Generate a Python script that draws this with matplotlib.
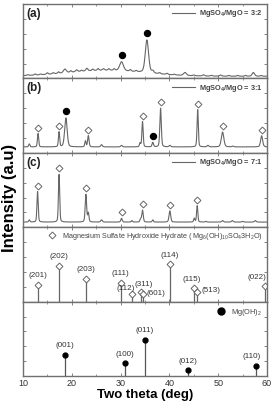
import numpy as np
import matplotlib
matplotlib.use("Agg")
import matplotlib.pyplot as plt
from matplotlib.lines import Line2D
from matplotlib.ticker import MultipleLocator

plt.rcParams['font.family'] = ['Liberation Sans', 'DejaVu Sans']
plt.rcParams['mathtext.fontset'] = 'custom'
plt.rcParams['mathtext.rm'] = 'Liberation Sans'
plt.rcParams['mathtext.bf'] = 'Liberation Sans:bold'

# ---- measured patterns (peak position deg, height, fwhm) ----
a_base = 0.03
a_hump = [27.0, 0.08, 8.0]   # centre, height, sigma of amorphous hump
a_pos = [11.0, 12.5, 13.6, 15.0, 16.2, 17.3, 18.6, 19.8, 21.0, 22.0, 23.1, 24.3, 25.4, 26.5, 27.6,
         28.7, 30.2, 32.0, 33.2, 35.4, 36.6, 38.0, 39.5, 41.0, 43.2, 45.0, 47.0, 48.6, 50.5,
         52.2, 54.0, 55.6, 57.2, 58.8]
a_hgt = [0.01, 0.015, 0.01, 0.02, 0.015, 0.02, 0.05, 0.02, 0.025, 0.015, 0.035, 0.02, 0.025, 0.02, 0.02,
         0.02, 0.12, 0.02, 0.015, 0.44, 0.03, 0.015, 0.015, 0.01, 0.04, 0.01, 0.015, 0.01, 0.015,
         0.01, 0.012, 0.01, 0.05, 0.01]
a_wid = [0.4, 0.4, 0.4, 0.4, 0.4, 0.4, 0.7, 0.4, 0.5, 0.4, 0.5, 0.4, 0.4, 0.5, 0.4,
         0.4, 0.9, 0.4, 0.4, 0.8, 0.5, 0.4, 0.4, 0.4, 0.7, 0.4, 0.5, 0.4, 0.5,
         0.4, 0.4, 0.4, 0.6, 0.4]
a_dots = [30.2, 35.4]
a_diam = []

b_base = 0.08
b_pos = [11.3, 13.1, 17.4, 18.8, 22.8, 23.4, 26.1, 30.2, 34.0, 34.5, 36.6, 38.2, 40.1, 45.8, 47.9, 50.9, 53.0, 58.9]
b_hgt = [0.04, 0.18, 0.20, 0.39, 0.08, 0.15, 0.03, 0.02, 0.05, 0.34, 0.06, 0.52, 0.02, 0.50, 0.02, 0.20, 0.01, 0.15]
b_wid = [0.3, 0.3, 0.3, 0.6, 0.3, 0.35, 0.4, 0.4, 0.3, 0.3, 0.35, 0.35, 0.4, 0.3, 0.4, 0.6, 0.4, 0.5]
b_dots = [18.8, 36.6]
b_diam = [13.1, 17.4, 23.4, 34.5, 38.2, 45.8, 50.9, 58.9]

c_base = 0.07
c_pos = [11.3, 13.0, 17.4, 22.9, 23.4, 26.1, 30.2, 32.3, 34.1, 34.5, 36.6, 40.1, 45.1, 45.7, 47.5, 50.9, 52.9, 55.0, 57.6]
c_hgt = [0.03, 0.41, 0.64, 0.37, 0.12, 0.03, 0.05, 0.02, 0.04, 0.16, 0.03, 0.15, 0.05, 0.22, 0.01, 0.02, 0.02, 0.01, 0.02]
c_wid = [0.3, 0.3, 0.3, 0.35, 0.3, 0.4, 0.35, 0.3, 0.3, 0.35, 0.3, 0.4, 0.3, 0.3, 0.3, 0.4, 0.4, 0.4, 0.4]
c_dots = []
c_diam = [13.0, 17.4, 22.9, 30.2, 34.5, 40.1, 45.7]

# reference sticks
mshh_pos = [13.0, 17.4, 22.9, 30.0, 32.3, 34.1, 34.5, 40.1, 45.0, 45.6, 59.6]
mshh_hgt = [0.23, 0.48, 0.30, 0.25, 0.10, 0.13, 0.11, 0.50, 0.18, 0.13, 0.21]
mshh_lab = ['(201)', '(202)', '(203)', '(111)', '(112)', '(311)', '(601)', '(114)', '(115)', '(513)', '(022)']

mgoh_pos = [18.6, 30.9, 35.0, 43.9, 57.7]
mgoh_hgt = [0.29, 0.18, 0.49, 0.08, 0.14]
mgoh_lab = ['(001)', '(100)', '(011)', '(012)', '(110)']

legends = ['MgSO$_\\mathbf{4}$/MgO = 3:2', 'MgSO$_\\mathbf{4}$/MgO = 3:1', 'MgSO$_\\mathbf{4}$/MgO = 7:1']
tags = ['(a)', '(b)', '(c)']

x = np.arange(10, 60.001, 0.02)


def pattern(base, pos, hgt, wid, hump=None, eta=0.3):
    y = np.full_like(x, base)
    if hump is not None:
        y += hump[1] * np.exp(-(x - hump[0]) ** 2 / (2 * hump[2] ** 2))
    for p, h, w in zip(pos, hgt, wid):
        g = (w / 2) ** 2
        lor = g / ((x - p) ** 2 + g)
        gau = np.exp(-4 * np.log(2) * (x - p) ** 2 / w ** 2)
        y += h * (eta * lor + (1 - eta) * gau)
    return y


line_col = '#666666'
spine_col = '#707070'

fig, axes = plt.subplots(5, 1, figsize=(2.73, 4.04), dpi=100, sharex=True)
fig.subplots_adjust(left=0.084, right=0.978, top=0.990, bottom=0.069, hspace=0)

spectra = [
    (pattern(a_base, a_pos, a_hgt, a_wid, a_hump), a_dots, a_diam),
    (pattern(b_base, b_pos, b_hgt, b_wid), b_dots, b_diam),
    (pattern(c_base, c_pos, c_hgt, c_wid), c_dots, c_diam),
]

for i, (y, dots, diam) in enumerate(spectra):
    ax = axes[i]
    ax.plot(x, y, color=line_col, lw=0.8, label=legends[i])
    for d in dots:
        m = (x > d - 0.4) & (x < d + 0.4)
        ax.plot(d, y[m].max() + 0.09, 'o', ms=4.3, color='black')
    for d in diam:
        m = (x > d - 0.4) & (x < d + 0.4)
        ax.plot(d, y[m].max() + 0.08, 'D', ms=3.5, mfc='white', mec=line_col, mew=0.7)
    ax.text(0.015, 0.95, tags[i], transform=ax.transAxes, ha='left', va='top',
            fontsize=8.5, fontweight='bold', color='#222222')
    leg = ax.legend(loc='upper right', frameon=False, handlelength=3.2,
                    handletextpad=0.5, borderaxespad=0.2, prop={'weight': 'bold', 'size': 5.3})
    for t in leg.get_texts():
        t.set_color('#444444')

# MSHH reference
ax = axes[3]
ax.vlines(mshh_pos, 0, mshh_hgt, color=line_col, lw=0.9)
ax.plot(mshh_pos, mshh_hgt, 'D', ms=3.5, mfc='white', mec=line_col, mew=0.7, ls='none')
lab_off = {'(112)': (-1.3, 0.03), '(311)': (0.7, 0.06), '(601)': (2.7, -0.05),
           '(513)': (3.0, -0.02), '(022)': (-1.6, 0.07), '(115)': (-0.4, 0.07)}
for p, h, l in zip(mshh_pos, mshh_hgt, mshh_lab):
    dx, dy = lab_off.get(l, (0.0, 0.08))
    ax.text(p + dx, h + dy, l, ha='center', va='bottom', fontsize=5.8, color='#333333')
h1 = Line2D([], [], marker='D', ms=3.5, mfc='white', mec=line_col, mew=0.7, ls='none')
leg = ax.legend([h1], ['Magnesium Sulfate Hydroxide Hydrate ( Mg$_6$(OH)$_{10}$SO$_4$3H$_2$O)'],
                loc='upper right', fontsize=5.2, frameon=False, handletextpad=0.5,
                borderaxespad=0.1)
for t in leg.get_texts():
    t.set_color('#444444')

# Mg(OH)2 reference
ax = axes[4]
ax.vlines(mgoh_pos, 0, mgoh_hgt, color='#555555', lw=0.9)
ax.plot(mgoh_pos, mgoh_hgt, 'o', ms=3.5, color='black', ls='none')
for p, h, l in zip(mgoh_pos, mgoh_hgt, mgoh_lab):
    dx = -0.8 if l == '(110)' else 0.0
    ax.text(p + dx, h + 0.07, l, ha='center', va='bottom', fontsize=5.8, color='#333333')
h2 = Line2D([], [], marker='o', ms=5, color='black', ls='none')
leg = ax.legend([h2], ['Mg(OH)$_2$'], loc='upper right', fontsize=5.3, frameon=False,
                handletextpad=0.4, borderaxespad=0.3)
for t in leg.get_texts():
    t.set_color('#444444')

for ax in axes:
    ax.set_xlim(10, 60)
    ax.set_ylim(0, 1)
    ax.set_yticks(np.arange(0, 1.01, 0.2))
    ax.set_yticklabels([])
    ax.xaxis.set_major_locator(MultipleLocator(10))
    ax.xaxis.set_minor_locator(MultipleLocator(5))
    ax.tick_params(direction='in', length=2, width=0.6, colors=spine_col,
                   top=True, right=True, labelsize=6.5, labelcolor='#333333', pad=2)
    ax.tick_params(which='minor', direction='in', length=1.2, width=0.5,
                   colors=spine_col, top=True)
    for s in ax.spines.values():
        s.set_color(spine_col)
        s.set_linewidth(1.0)

axes[-1].set_xlabel('Two theta (deg)', fontsize=9.5, fontweight='bold', labelpad=0.5)
fig.text(0.035, 0.51, 'Intensity (a.u)', rotation=90, ha='center', va='center',
         fontsize=12, fontweight='bold')

fig.savefig('out.png', dpi=100)
